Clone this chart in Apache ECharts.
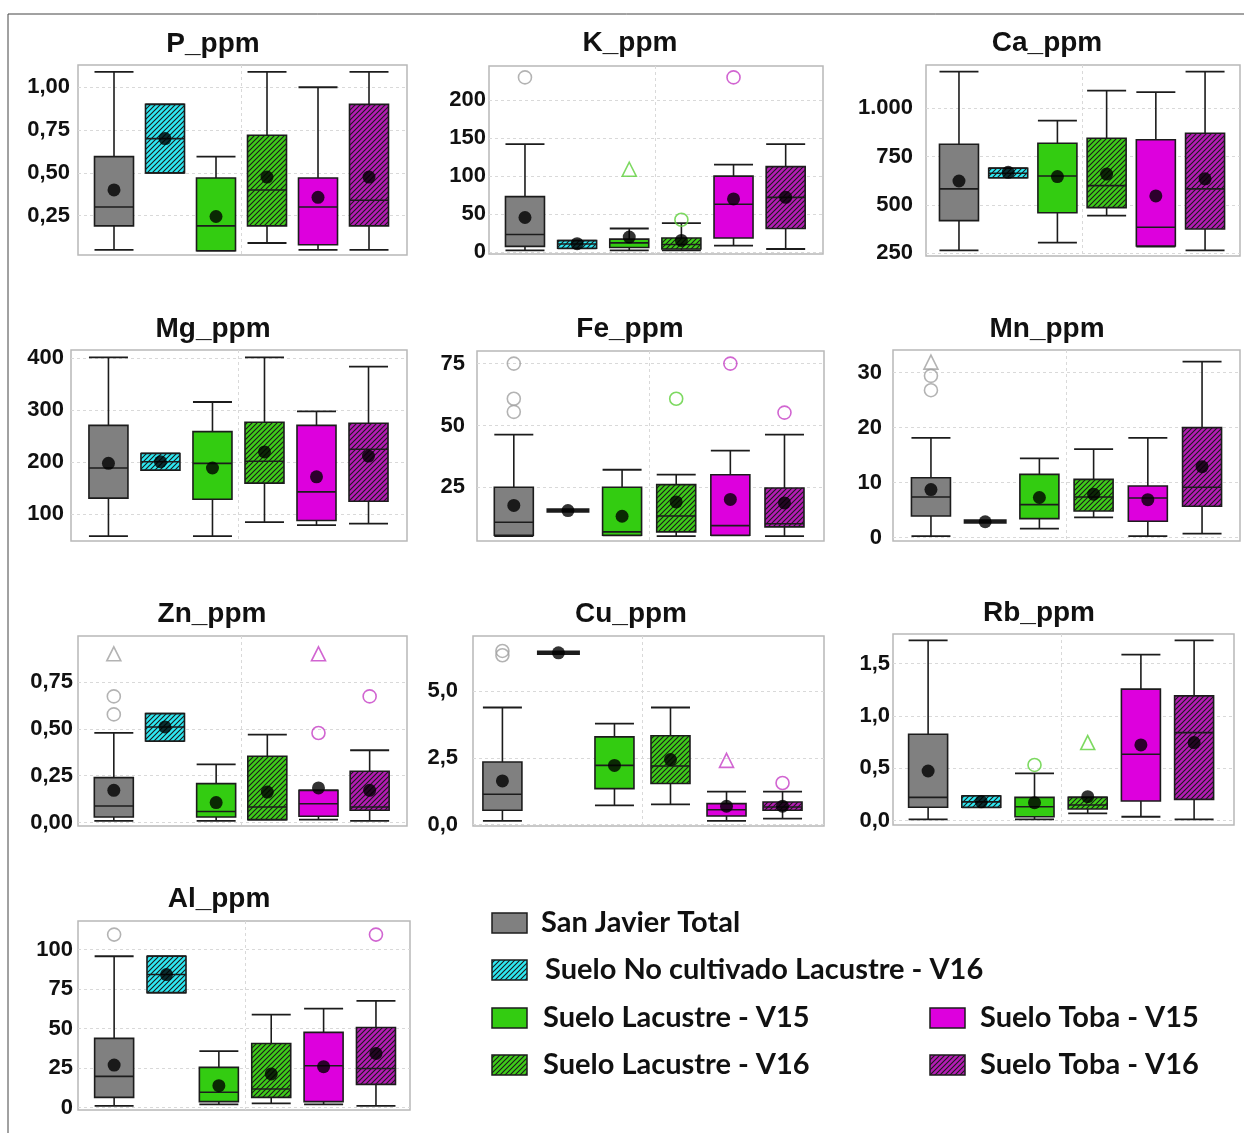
<!DOCTYPE html>
<html>
<head>
<meta charset="utf-8">
<script src="https://cdn.jsdelivr.net/npm/echarts@6/dist/echarts.min.js"></script>
<style>
html,body{margin:0;padding:0;background:#fff;}
#chart{width:1244px;height:1133px;}
</style>
</head>
<body>
<div id="chart"></div>
<script>
// ---------------- DATA ----------------
const groups = ['San Javier Total', 'Suelo No cultivado Lacustre - V16', 'Suelo Lacustre - V15',
  'Suelo Lacustre - V16', 'Suelo Toba - V15', 'Suelo Toba - V16'];

// each box: [min, Q1, median, Q3, max]; outliers: [group, value, shape]
const P_box = [[0.05,0.19,0.30,0.595,1.09],[0.50,0.50,0.70,0.90,0.90],[0.045,0.045,0.19,0.47,0.595],
  [0.09,0.19,0.40,0.72,1.09],[0.05,0.08,0.30,0.47,1.00],[0.05,0.19,0.34,0.90,1.09]];
const P_mean = [0.40,0.70,0.245,0.475,0.357,0.475];
const P_out = [];
const P_ticks = [0.25,0.50,0.75,1.00];

const K_box = [[2.2,7.4,23,73,142],[5,5,10.5,15,15],[2.2,6,12,17,31],[2.2,4,10,18.5,38],
  [8.3,18.5,63,100,115],[4,31,72,112.5,142]];
const K_mean = [45.5,11,19.7,15.3,70,72];
const K_out = [[0,230,'circle'],[2,109,'triangle'],[3,42.5,'circle'],[4,230,'circle']];
const K_ticks = [0,50,100,150,200];

const Ca_box = [[265,419,583,814,1190],[641,641,664,690,690],[305,460,650,819,936],
  [445,486,600,845,1091],[284,288,385,837,1084],[265,376,583,871,1190]];
const Ca_mean = [624,669,647,660,547,635];
const Ca_out = [];
const Ca_ticks = [250,500,750,1000];

const Mg_box = [[58,131,189,271,402],[185,185,201,217,217],[58,129,198,259,316],
  [85,160,202,277,402],[79,88,143,271,298],[82,125,225,275,384]];
const Mg_mean = [198,201,189,220,172,212];
const Mg_out = [];
const Mg_ticks = [100,200,300,400];

const Fe_box = [[5.3,5.6,10.9,25,46.3],[15.6,15.6,15.6,15.6,15.6],[5.6,5.6,7,25,32.1],
  [5.3,7,13.4,26.1,30.1],[5.6,5.6,9.5,30.1,39.8],[5.3,9,10.3,24.7,46.3]];
const Fe_mean = [17.7,15.6,13.3,19.1,20.1,18.7];
const Fe_out = [[0,75,'circle'],[0,60.8,'circle'],[0,55.5,'circle'],[3,60.8,'circle'],[4,75,'circle'],[5,55.2,'circle']];
const Fe_ticks = [25,50,75];

const Mn_box = [[0.3,3.95,7.4,10.9,18.15],[2.95,2.95,2.95,2.95,2.95],[1.64,3.46,6.0,11.5,14.4],
  [3.7,4.86,7.4,10.6,16.1],[0.3,3.0,7.2,9.4,18.15],[0.73,5.7,9.17,20.0,32.0]];
const Mn_mean = [8.74,2.9,7.3,7.9,6.9,12.9];
const Mn_out = [[0,31.9,'triangle'],[0,29.4,'circle'],[0,26.8,'circle']];
const Mn_ticks = [0,10,20,30];

const Zn_box = [[0.009,0.030,0.089,0.24,0.478],[0.435,0.435,0.51,0.581,0.581],[0.009,0.030,0.059,0.208,0.311],
  [0.016,0.016,0.083,0.354,0.469],[0.016,0.034,0.101,0.172,0.172],[0.009,0.066,0.083,0.274,0.386]];
const Zn_mean = [0.172,0.51,0.107,0.163,0.185,0.172];
const Zn_out = [[0,0.90,'triangle'],[0,0.673,'circle'],[0,0.577,'circle'],[4,0.90,'triangle'],[4,0.478,'circle'],[5,0.673,'circle']];
const Zn_ticks = [0,0.25,0.50,0.75];

const Cu_box = [[0.14,0.54,1.14,2.35,4.39],[6.44,6.44,6.44,6.44,6.44],[0.725,1.35,2.22,3.29,3.79],
  [0.76,1.54,2.2,3.33,4.39],[0.14,0.325,0.56,0.79,1.24],[0.225,0.54,0.66,0.85,1.24]];
const Cu_mean = [1.64,6.44,2.22,2.44,0.69,0.69];
const Cu_out = [[0,6.51,'circle'],[0,6.35,'circle'],[4,2.41,'triangle'],[5,1.56,'circle']];
const Cu_ticks = [0,2.5,5.0];

const Rb_box = [[0.013,0.128,0.223,0.826,1.723],[0.128,0.128,0.18,0.236,0.236],[0.013,0.038,0.134,0.223,0.453],
  [0.070,0.112,0.15,0.223,0.223],[0.038,0.188,0.635,1.257,1.586],[0.013,0.204,0.842,1.193,1.723]];
const Rb_mean = [0.475,0.18,0.172,0.23,0.724,0.747];
const Rb_out = [[2,0.533,'circle'],[3,0.747,'triangle']];
const Rb_ticks = [0,0.5,1.0,1.5];

const Al_box = [[1.05,6.5,19.8,43.8,95.8],[72.8,72.8,84.2,95.8,95.8],[2.1,3.8,9.7,25.5,35.8],
  [2.7,6.5,11.8,40.6,58.9],[2.1,3.8,26.5,47.6,62.7],[1.05,14.7,24.8,50.7,67.6]];
const Al_mean = [26.9,84.2,13.9,21.3,25.9,34.3];
const Al_out = [[0,109.5,'circle'],[5,109.5,'circle']];
const Al_ticks = [0,25,50,75,100];

// ---------------- LAYOUT / STYLE ----------------
const panels = [
  {name:'P_ppm', box:P_box, mean:P_mean, out:P_out, ticks:P_ticks, dec:2, L:78, T:65, R:407, B:255, xr:[-0.706,5.745], yr:[0.02,1.13], lm:8, tx:213, ty:44},
  {name:'K_ppm', box:K_box, mean:K_mean, out:K_out, ticks:K_ticks, dec:0, L:489, T:66, R:823, B:254, xr:[-0.69,5.716], yr:[-2.6,245], lm:3, tx:630, ty:43},
  {name:'Ca_ppm', box:Ca_box, mean:Ca_mean, out:Ca_out, ticks:Ca_ticks, dec:0, L:926, T:65, R:1240, B:256, xr:[-0.67,5.71], yr:[236,1224], lm:13, tx:1047, ty:43},
  {name:'Mg_ppm', box:Mg_box, mean:Mg_mean, out:Mg_out, ticks:Mg_ticks, dec:0, L:71, T:350, R:407, B:541, xr:[-0.72,5.74], yr:[48.6,416], lm:7, tx:213, ty:329},
  {name:'Fe_ppm', box:Fe_box, mean:Fe_mean, out:Fe_out, ticks:Fe_ticks, dec:0, L:477, T:351, R:824, B:541, xr:[-0.68,5.73], yr:[3.3,80.1], lm:12, tx:630, ty:329},
  {name:'Mn_ppm', box:Mn_box, mean:Mn_mean, out:Mn_out, ticks:Mn_ticks, dec:0, L:893, T:350, R:1240, B:541, xr:[-0.7,5.7], yr:[-0.6,34.1], lm:11, tx:1047, ty:329},
  {name:'Zn_ppm', box:Zn_box, mean:Zn_mean, out:Zn_out, ticks:Zn_ticks, dec:2, L:78, T:636, R:407, B:826, xr:[-0.70,5.73], yr:[-0.018,0.995], lm:5, tx:212, ty:614},
  {name:'Cu_ppm', box:Cu_box, mean:Cu_mean, out:Cu_out, ticks:Cu_ticks, dec:1, L:473, T:636, R:824, B:826, xr:[-0.525,5.74], yr:[-0.05,7.07], lm:15, tx:631, ty:614},
  {name:'Rb_ppm', box:Rb_box, mean:Rb_mean, out:Rb_out, ticks:Rb_ticks, dec:1, L:893, T:634, R:1234, B:825, xr:[-0.66,5.75], yr:[-0.041,1.784], lm:3, tx:1039, ty:613},
  {name:'Al_ppm', box:Al_box, mean:Al_mean, out:Al_out, ticks:Al_ticks, dec:0, L:78, T:921, R:410, B:1110, xr:[-0.69,5.65], yr:[-1.5,118.1], lm:5, tx:219, ty:899}
];

const BOX_W = 39;
const EDGE = '#1c1c1c';

function hatch(base) {
  const s = 5;
  const c = document.createElement('canvas');
  c.width = s; c.height = s;
  const ctx = c.getContext('2d');
  ctx.fillStyle = base; ctx.fillRect(0, 0, s, s);
  ctx.strokeStyle = '#1a1a1a'; ctx.lineWidth = 1.1;
  ctx.beginPath();
  ctx.moveTo(-1, s + 1); ctx.lineTo(s + 1, -1);
  ctx.moveTo(-1, 1); ctx.lineTo(1, -1);
  ctx.moveTo(s - 1, s + 1); ctx.lineTo(s + 1, s - 1);
  ctx.stroke();
  return {image: c, repeat: 'repeat'};
}
const FILLS = ['#808080', hatch('#2ee8f2'), '#33cc11', hatch('#3fcc1a'), '#dd00dd', hatch('#b41cb4')];
const OUTC = ['#a0a0a0', '#a0a0a0', '#5ccf3a', '#5ccf3a', '#c63ec6', '#c63ec6'];

function fmt(v, dec) {
  if (dec === 0) {
    return v >= 1000 ? String(v).replace(/\B(?=(\d{3})+(?!\d))/g, '.') : String(v);
  }
  return v.toFixed(dec).replace('.', ',');
}

function renderBox(params, api) {
  const g = api.value(0);
  const v = [api.value(1), api.value(2), api.value(3), api.value(4), api.value(5)];
  const p = v.map(val => api.coord([g, val]));
  const cx = p[0][0];
  const hw = BOX_W / 2;
  const ch = [];
  if (v[0] === v[4]) {
    ch.push({type:'rect', shape:{x:cx - hw - 2, y:p[0][1] - 2.2, width:BOX_W + 4, height:4.4}, style:{fill:EDGE}});
    return {type:'group', children:ch};
  }
  const ls = {stroke:EDGE, lineWidth:1.6};
  ch.push({type:'line', shape:{x1:cx, y1:p[0][1], x2:cx, y2:p[1][1]}, style:ls});
  ch.push({type:'line', shape:{x1:cx, y1:p[3][1], x2:cx, y2:p[4][1]}, style:ls});
  ch.push({type:'line', shape:{x1:cx - hw, y1:p[0][1], x2:cx + hw, y2:p[0][1]}, style:{stroke:EDGE, lineWidth:1.8}});
  ch.push({type:'line', shape:{x1:cx - hw, y1:p[4][1], x2:cx + hw, y2:p[4][1]}, style:{stroke:EDGE, lineWidth:1.8}});
  ch.push({type:'rect', shape:{x:cx - hw, y:p[3][1], width:BOX_W, height:p[1][1] - p[3][1]},
    style:{fill:FILLS[g], stroke:EDGE, lineWidth:1.6}});
  ch.push({type:'line', shape:{x1:cx - hw, y1:p[2][1], x2:cx + hw, y2:p[2][1]}, style:{stroke:EDGE, lineWidth:1.6}});
  return {type:'group', children:ch};
}

const grid = [], xAxis = [], yAxis = [], series = [], graphic = [];
const gridLine = {show:true, lineStyle:{color:'#d9d9d9', width:1, type:[3,3]}};
panels.forEach((pn, i) => {
  grid.push({left:pn.L, top:pn.T, width:pn.R - pn.L, height:pn.B - pn.T, show:true,
    borderColor:'#b8b8b8', borderWidth:1.5, backgroundColor:'#fff', containLabel:false});
  xAxis.push({type:'value', gridIndex:i, min:pn.xr[0], max:pn.xr[1],
    axisLine:{show:false}, axisTick:{show:false, customValues:[2.5]},
    axisLabel:{show:false, customValues:[2.5]}, splitLine:gridLine});
  yAxis.push({type:'value', gridIndex:i, min:pn.yr[0], max:pn.yr[1],
    axisLine:{show:false}, axisTick:{show:false, customValues:pn.ticks},
    axisLabel:{customValues:pn.ticks, margin:pn.lm, color:'#111', fontFamily:'Liberation Sans',
      fontWeight:'bold', fontSize:22, formatter:(v) => fmt(v, pn.dec)},
    splitLine:gridLine});
  series.push({type:'custom', xAxisIndex:i, yAxisIndex:i, renderItem:renderBox,
    encode:{x:0, y:[1,2,3,4,5]}, z:2,
    data:pn.box.map((b, g) => [g].concat(b))});
  series.push({type:'scatter', xAxisIndex:i, yAxisIndex:i, symbol:'circle', symbolSize:13, z:5,
    itemStyle:{color:'#000'}, data:pn.mean.map((m, g) => [g, m])});
  series.push({type:'scatter', xAxisIndex:i, yAxisIndex:i, z:4,
    data:pn.out.map(o => ({value:[o[0], o[1]], symbol:o[2], symbolSize:o[2] === 'triangle' ? 14 : 13,
      itemStyle:{color:'rgba(255,255,255,0)', borderColor:OUTC[o[0]], borderWidth:1.6}}))});
  graphic.push({type:'text', x:pn.tx, y:pn.ty, z:10,
    style:{text:pn.name, fill:'#111', font:'bold 28px "Liberation Sans"', align:'center', verticalAlign:'middle'}});
});

// outer frame
graphic.push({type:'rect', shape:{x:8, y:14, width:1250, height:1130}, style:{fill:'none', stroke:'#444', lineWidth:1}, z:-1});

// legend
const legendPos = [[492, 923, 541], [492, 970, 545], [492, 1018, 543], [492, 1065, 543], [930, 1018, 980], [930, 1065, 980]];
groups.forEach((name, g) => {
  const lp = legendPos[g];
  graphic.push({type:'rect', shape:{x:lp[0], y:lp[1] - 10, width:35, height:20},
    style:{fill:FILLS[g], stroke:EDGE, lineWidth:1.5}, z:10});
  graphic.push({type:'text', x:lp[2], y:lp[1], z:10,
    style:{text:name, fill:'#111', font:'bold 29px Lato', verticalAlign:'middle'}});
});

const chart = echarts.init(document.getElementById('chart'), null, {renderer:'canvas'});
chart.setOption({animation:false, backgroundColor:'#fff', grid, xAxis, yAxis, series, graphic});
</script>
</body>
</html>
